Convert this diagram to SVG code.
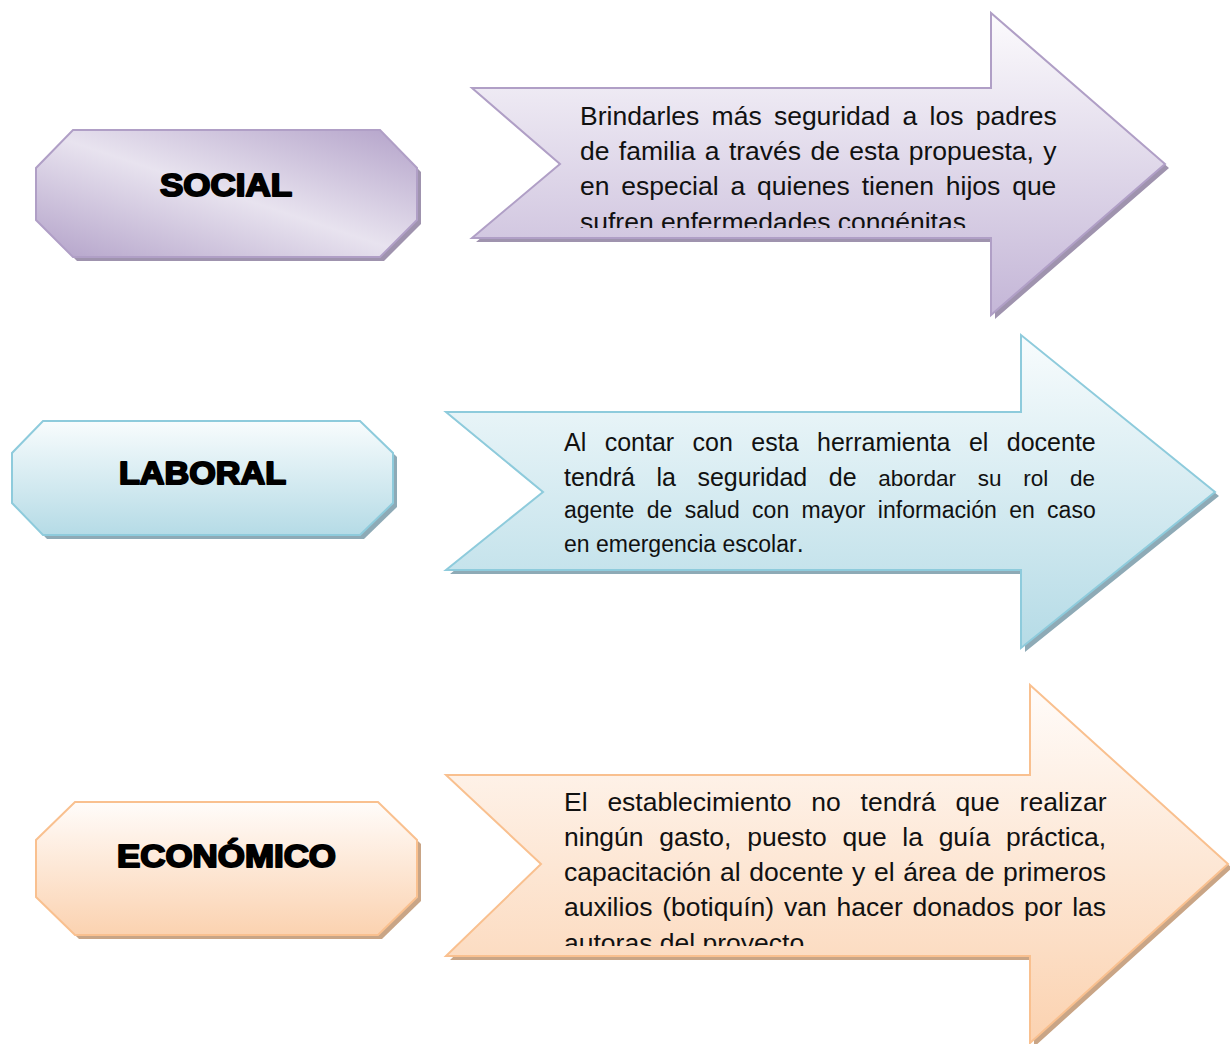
<svg xmlns="http://www.w3.org/2000/svg" width="1230" height="1044" viewBox="0 0 1230 1044">
<style>
.lbl{font-family:"Liberation Sans",Arial,sans-serif;font-weight:900;font-size:32px;fill:#000;stroke:#000;stroke-width:2px;stroke-linejoin:round;text-anchor:middle}
.body{font-family:"Liberation Sans",Arial,sans-serif;font-size:25px;fill:#111}
.p{stroke:#b09fc6;stroke-width:2}
.b{stroke:#8ecbdc;stroke-width:2}
.o{stroke:#f9c08f;stroke-width:2}
</style>
<defs>
<linearGradient id="gPurpOct" x1="0" y1="1" x2="1" y2="0">
<stop offset="0" stop-color="#b3a2c9"/><stop offset="0.5" stop-color="#e8e3ef"/><stop offset="1" stop-color="#b3a2c9"/>
</linearGradient>
<linearGradient id="gPurpArr" x1="0" y1="0" x2="0" y2="1">
<stop offset="0" stop-color="#fcfbfd"/><stop offset="1" stop-color="#c4b6d7"/>
</linearGradient>
<linearGradient id="gBlue" x1="0" y1="0" x2="0" y2="1">
<stop offset="0" stop-color="#f8fcfd"/><stop offset="1" stop-color="#b5dbe6"/>
</linearGradient>
<linearGradient id="gOrange" x1="0" y1="0" x2="0" y2="1">
<stop offset="0" stop-color="#fffcfa"/><stop offset="1" stop-color="#fbd2b0"/>
</linearGradient>
<clipPath id="c1"><rect x="560" y="95" width="520" height="133"/></clipPath>
<clipPath id="c3"><rect x="550" y="780" width="570" height="166"/></clipPath>
</defs>
<rect width="1230" height="1044" fill="#fff"/>

<g id="social">
<polygon points="77,134 384,134 421,172 421,224 384,261 77,261 40,224 40,172" fill="#9f93ae"/>
<polygon class="p" points="73,130 380,130 417,168 417,220 380,257 73,257 36,220 36,168" fill="url(#gPurpOct)"/>
<text class="lbl" x="226" y="196" textLength="132" lengthAdjust="spacingAndGlyphs">SOCIAL</text>
</g>

<g id="social-arrow">
<polygon points="476,92 995,92 995,17 1169,168 995,319 995,242 476,242 564,168" fill="#9f93ae"/>
<polygon class="p" points="472,88 991,88 991,13 1165,164 991,315 991,238 472,238 560,164" fill="url(#gPurpArr)"/>
<g clip-path="url(#c1)">
<text class="body" style="font-size:26.5px" x="580" y="125" word-spacing="4.9">Brindarles más seguridad a los padres</text>
<text class="body" style="font-size:26.5px" x="580" y="160" word-spacing="2.0">de familia a través de esta propuesta, y</text>
<text class="body" style="font-size:26.5px" x="580" y="195" word-spacing="4.5">en especial a quienes tienen hijos que</text>
<text class="body" style="font-size:26.5px" x="580" y="231">sufren enfermedades congénitas</text>
</g>
</g>

<g id="laboral">
<polygon points="47,425 364,425 397,457 397,507 364,539 47,539 16,507 16,457" fill="#8eaab6"/>
<polygon class="b" points="43,421 360,421 393,453 393,503 360,535 43,535 12,503 12,453" fill="url(#gBlue)"/>
<text class="lbl" x="202.5" y="484" textLength="167" lengthAdjust="spacingAndGlyphs">LABORAL</text>
</g>

<g id="laboral-arrow">
<polygon points="450,416 1025,416 1025,339 1219,496 1025,652 1025,574 450,574 547,496" fill="#8eaab6"/>
<polygon class="b" points="446,412 1021,412 1021,335 1215,492 1021,648 1021,570 446,570 543,492" fill="url(#gBlue)"/>
<text class="body" x="564" y="451" word-spacing="11.5">Al contar con esta herramienta el docente</text>
<text class="body" x="564" y="486"><tspan word-spacing="14.6">tendrá la seguridad de</tspan><tspan style="font-size:22.5px" word-spacing="15.5"> abordar su rol de</tspan></text>
<text class="body" style="font-size:23px" x="564" y="518" word-spacing="6">agente de salud con mayor información en caso</text>
<text class="body" x="564" y="552"><tspan style="font-size:23px">en emergencia escolar</tspan>.</text>
</g>

<g id="economico">
<polygon points="79,806 382,806 421,844 421,901 382,939 79,939 40,901 40,844" fill="#c9a586"/>
<polygon class="o" points="75,802 378,802 417,840 417,897 378,935 75,935 36,897 36,840" fill="url(#gOrange)"/>
<text class="lbl" x="226.5" y="867" textLength="219" lengthAdjust="spacingAndGlyphs">ECONÓMICO</text>
</g>

<g id="economico-arrow">
<polygon points="450,779 1034,779 1034,689 1232,868 1034,1047 1034,960 450,960 545,868" fill="#c9a586"/>
<polygon class="o" points="446,775 1030,775 1030,685 1228,864 1030,1043 1030,956 446,956 541,864" fill="url(#gOrange)"/>
<g clip-path="url(#c3)">
<text class="body" style="font-size:26.5px" x="564" y="811" word-spacing="12.45">El establecimiento no tendrá que realizar</text>
<text class="body" style="font-size:26.5px" x="564" y="846" word-spacing="8.33">ningún gasto, puesto que la guía práctica,</text>
<text class="body" style="font-size:26.5px" x="564" y="881" word-spacing="1.26">capacitación al docente y el área de primeros</text>
<text class="body" style="font-size:26.5px" x="564" y="916" word-spacing="2.45">auxilios (botiquín) van hacer donados por las</text>
<text class="body" style="font-size:26.5px" x="564" y="952">autoras del proyecto</text>
</g>
</g>

<g id="connectors"/>
</svg>
